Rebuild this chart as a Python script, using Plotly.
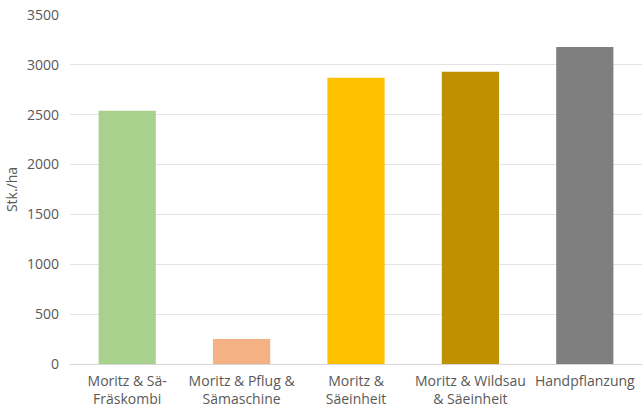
import plotly.graph_objects as go

categories = ["Moritz & Sä-<br>Fräskombi", "Moritz & Pflug &<br>Sämaschine", "Moritz &<br>Säeinheit",
              "Moritz & Wildsau<br>& Säeinheit", "Handpflanzung"]
values = [2540, 250, 2870, 2930, 3180]
colors = ["#A9D18E", "#F4B183", "#FFC000", "#BF9000", "#7F7F7F"]
y_ticks = [0, 500, 1000, 1500, 2000, 2500, 3000, 3500]

fig = go.Figure(go.Bar(x=categories, y=values, marker_color=colors, marker_line_width=0, width=0.5))
fig.update_layout(
    width=642, height=414,
    margin=dict(l=70, r=0, t=15, b=50),
    plot_bgcolor="white", paper_bgcolor="white",
    font=dict(family="Open Sans", size=14, color="#595959"),
    showlegend=False,
)
fig.update_xaxes(showgrid=False, showline=True, linecolor="#d9d9d9", linewidth=1, ticks="",
                 tickfont=dict(size=14), range=[-0.5, 4.5], ticklabelstandoff=4)
fig.update_yaxes(range=[0, 3500], tickvals=y_ticks, showgrid=True, gridcolor="#e4e4e4", gridwidth=1,
                 zeroline=False, showline=False, ticks="", tickfont=dict(size=14), ticklabelstandoff=10,
                 title=dict(text="Stk./ha", standoff=6, font=dict(size=14)))
fig.write_html("out.html")
